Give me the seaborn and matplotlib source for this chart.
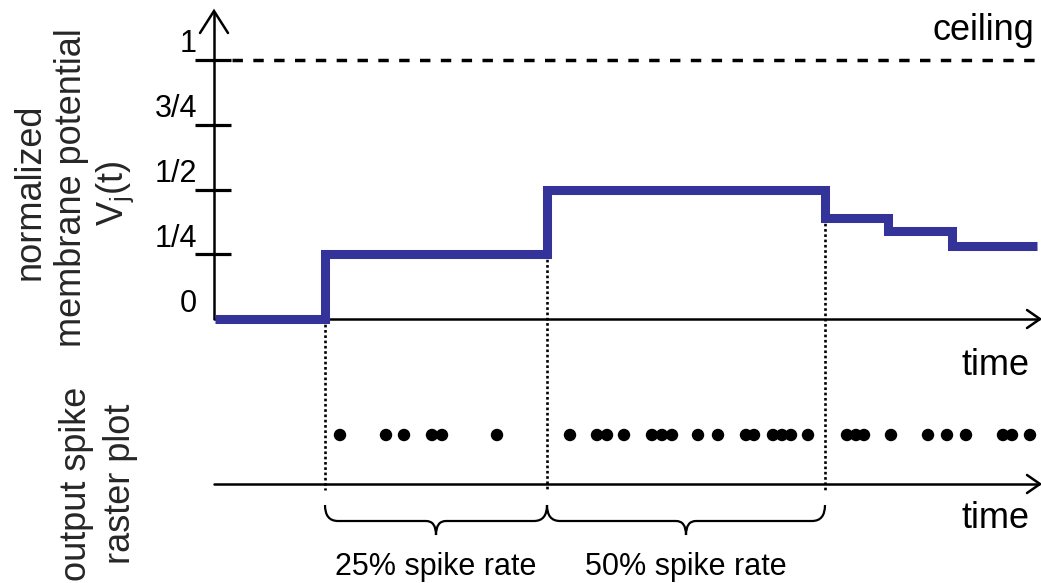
import numpy as np
import pandas as pd
import matplotlib
matplotlib.use("Agg")
import matplotlib.pyplot as plt
import seaborn as sns
from matplotlib.path import Path
from matplotlib.patches import PathPatch

# ---------------- data ----------------
step_times = [215, 325, 547, 825, 888, 952, 1037]          # time (arbitrary units)
potential = [0.0, 0.25, 0.5, 0.39, 0.34, 0.28, 0.28]       # normalized membrane potential
spike_times = [340, 386, 404, 432, 442, 497,
               570, 597, 607, 624, 652, 662, 672, 698, 718, 746, 754,
               773, 782, 791, 808,
               847, 856, 864, 891, 928, 947, 966, 1003, 1012, 1030]
ytick_values = [0.0, 0.25, 0.5, 0.75, 1.0]
ytick_labels = ["0", "1/4", "1/2", "3/4", "1"]
ceiling_value = 1.0
rate_labels = ["25% spike rate", "50% spike rate"]
rate_spans = [(325, 547), (547, 825)]

# ---------------- style ----------------
sns.set_theme(style="white")
plt.rcParams["font.family"] = ["Liberation Sans", "DejaVu Sans"]
plt.rcParams["mathtext.fontset"] = "custom"
plt.rcParams["mathtext.rm"] = "Liberation Sans"
plt.rcParams["mathtext.it"] = "Liberation Sans"
plt.rcParams["mathtext.default"] = "regular"

W, H = 1041, 583
Y0, PPU = 319.0, 259.0          # pixel row of potential 0, pixels per unit


def py(p):
    """pixel row -> potential units (layout helper)"""
    return (Y0 - p) / PPU


fig = plt.figure(figsize=(W / 100, H / 100), dpi=100)
ax = fig.add_axes([0, 0, 1, 1])
ax.set_xlim(0, W)
ax.set_ylim(py(H), py(0))
ax.set_axis_off()

BLACK = "black"
LW_AX = 1.8

# ---- axes of the potential plot ----
ax.plot([214, 214], [0, py(12)], color=BLACK, lw=LW_AX, solid_capstyle="butt", zorder=2)
ax.plot([200, 214, 228], [py(33), py(11), py(33)], color=BLACK, lw=LW_AX,
        solid_joinstyle="miter", zorder=2)
ax.plot([214, 1039], [0, 0], color=BLACK, lw=LW_AX, zorder=2)
ax.plot([1027, 1040, 1027], [py(Y0 - 9), 0, py(Y0 + 9)], color=BLACK, lw=LW_AX,
        solid_joinstyle="miter", zorder=2)

# y ticks and labels
tick_vals = [v for v in ytick_values if v > 0]
ax.hlines(tick_vals, 195, 231, color=BLACK, lw=2.3, zorder=2)
for v, lab in zip(ytick_values, ytick_labels):
    ax.text(197, v + 7.5 / PPU, lab, ha="right", va="baseline", fontsize=22, color=BLACK)

# ceiling
ax.plot([232, W], [ceiling_value, ceiling_value], color=BLACK, lw=2.5,
        linestyle=(0, (3.0, 3.0)), zorder=2)
ax.text(1034, py(40), "ceiling", ha="right", va="baseline", fontsize=26, color=BLACK)
ax.text(1029, py(375), "time", ha="right", va="baseline", fontsize=26, color=BLACK)

# ---- membrane potential step trace ----
df_v = pd.DataFrame({"t": step_times, "v": potential})
sns.lineplot(data=df_v, x="t", y="v", ax=ax, drawstyle="steps-post",
             color="#333399", lw=6.5, estimator=None, sort=True,
             solid_joinstyle="miter", solid_capstyle="butt", zorder=4)

# dotted guides from each rising/falling edge down to the raster axis
for i in (1, 2, 3):
    top = min(potential[i - 1], potential[i])
    ax.plot([step_times[i], step_times[i]], [top, py(490)], color=BLACK, lw=1.9,
            linestyle=(0, (1, 1)), zorder=3)

# ---- raster ----
raster_row = py(435)
df_s = pd.DataFrame({"t": spike_times, "row": [raster_row] * len(spike_times)})
sns.scatterplot(data=df_s, x="t", y="row", ax=ax, color=BLACK, s=80,
                edgecolor="none", zorder=5, legend=False)

ax.plot([214, 1039], [py(484), py(484)], color=BLACK, lw=LW_AX, zorder=2)
ax.plot([1027, 1040, 1027], [py(475), py(484), py(493)], color=BLACK, lw=LW_AX,
        solid_joinstyle="miter", zorder=2)
ax.text(1029, py(528), "time", ha="right", va="baseline", fontsize=26, color=BLACK)


# ---- braces ----
def brace(x0, x1, ytop=505, ymid=521, ytip=535, r=13, rt=10):
    xc = (x0 + x1) / 2
    verts = [(x0, ytop), (x0, ymid), (x0 + r, ymid),
             (xc - rt, ymid),
             (xc, ymid), (xc, ytip),
             (xc, ymid), (xc + rt, ymid),
             (x1 - r, ymid),
             (x1, ymid), (x1, ytop)]
    codes = [Path.MOVETO, Path.CURVE3, Path.CURVE3,
             Path.LINETO,
             Path.CURVE3, Path.CURVE3,
             Path.CURVE3, Path.CURVE3,
             Path.LINETO,
             Path.CURVE3, Path.CURVE3]
    verts = [(x, py(y)) for x, y in verts]
    ax.add_patch(PathPatch(Path(verts, codes), fill=False, lw=1.6, edgecolor=BLACK, zorder=2))
    return xc


for (a, b), lab in zip(rate_spans, rate_labels):
    xc = brace(a, b)
    ax.text(xc, py(575), lab, ha="center", va="baseline", fontsize=22, color=BLACK)

# ---- left-side labels ----
ax.text(30, py(192), "normalized", rotation=90, ha="center", va="center", fontsize=26)
ax.text(72, py(188), "membrane potential", rotation=90, ha="center", va="center", fontsize=26)
ax.text(115, py(193), "V$_j$(t)", rotation=90, ha="center", va="center", fontsize=26)
ax.text(76, py(484), "output spike", rotation=90, ha="center", va="center", fontsize=26)
ax.text(120, py(484), "raster plot", rotation=90, ha="center", va="center", fontsize=26)

fig.savefig("out.png", dpi=100, facecolor="white")
